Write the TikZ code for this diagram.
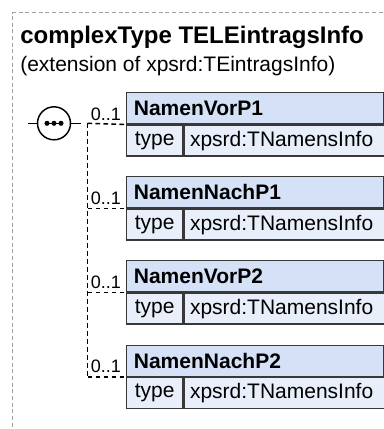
\documentclass[tikz,border=0pt]{standalone}
\usepackage{fontspec}
\setmainfont{Liberation Sans}
\definecolor{hdrfill}{HTML}{D4E1F6}
\definecolor{rowfill}{HTML}{E8EFFB}
\definecolor{boxline}{HTML}{383838}
\definecolor{frameline}{HTML}{A0A0A0}
\begin{document}
\begin{tikzpicture}[x=0.75pt,y=-0.75pt,
  hdr/.style={draw=boxline, line width=1.1pt, fill=hdrfill, anchor=north west,
    minimum width=192.75pt, minimum height=23.25pt, text width=182pt, inner xsep=5.25pt,
    align=left, font=\fontsize{15.75pt}{18pt}\selectfont\bfseries},
  tkey/.style={draw=boxline, line width=1.1pt, fill=rowfill, anchor=north west,
    minimum width=42pt, minimum height=23.25pt, inner xsep=0pt,
    font=\fontsize{15.75pt}{18pt}\selectfont},
  tval/.style={draw=boxline, line width=1.1pt, fill=rowfill, anchor=north west,
    minimum width=150.75pt, minimum height=23.25pt, text width=142pt, inner xsep=3.75pt, align=left,
    font=\fontsize{15.75pt}{18pt}\selectfont},
  mult/.style={anchor=base west, inner sep=0pt, font=\fontsize{13.5pt}{15pt}\selectfont},
  conn/.style={line width=1.2pt, dash pattern=on 3.5pt off 2.5pt},
  frame/.style={draw=frameline, line width=0.75pt, dash pattern=on 3pt off 2pt}
]
\useasboundingbox (0,0) rectangle (384,429);
% outer frame
\draw[frame] (12.7,440) -- (12.7,12.7) -- (400,12.7);
% title
\node[anchor=base west, inner sep=0pt, font=\fontsize{18pt}{21pt}\selectfont\bfseries] (title) at (20,43) {complexType TELEintragsInfo};
\node[anchor=base west, inner sep=0pt, font=\fontsize{15.75pt}{18pt}\selectfont] (sub) at (20,71) {(extension of xpsrd:TEintragsInfo)};
% element boxes
\foreach \i/\t/\n in {1/92/NamenVorP1, 2/176/NamenNachP1, 3/260/NamenVorP2, 4/344.5/NamenNachP2}{
  \node[hdr] (h\i) at (126,\t) {\n};
  \node[tkey] (k\i) at (h\i.south west) {type};
  \node[tval] (v\i) at (k\i.north east) {xpsrd:TNamensInfo};
}
% sequence compositor
\node[draw=black, line width=1.1pt, fill=white, circle, minimum size=24.75pt, inner sep=0pt] (seq) at (54,123.3) {};
\draw[line width=1.1pt] (seq.west) -- ++(-8.5,0) coordinate (seqin);
\draw[line width=1.1pt] (seq.east) -- ++(9.5,0) coordinate (seqout);
\draw[line width=1.1pt] ([xshift=-6.75pt]seq.center) -- ([xshift=6.75pt]seq.center);
\foreach \dx in {-5.25,0,5.25}{
  \fill ([xshift=\dx pt]seq.center) circle (1.9pt);
}
% connectors
\coordinate (j) at (87.5,123.3);
\draw[conn] (j) -- (h1.south west);
\draw[conn] (j) -- (j |- h4.south west);
\foreach \i in {2,3,4}{
  \draw[conn] (j |- h\i.south west) -- (h\i.south west);
}
% multiplicities
\foreach \i in {1,2,3,4}{
  \node[mult] (m\i) at ([xshift=2.4pt,yshift=3pt]j |- h\i.south west) {0..1};
}
\end{tikzpicture}
\end{document}
